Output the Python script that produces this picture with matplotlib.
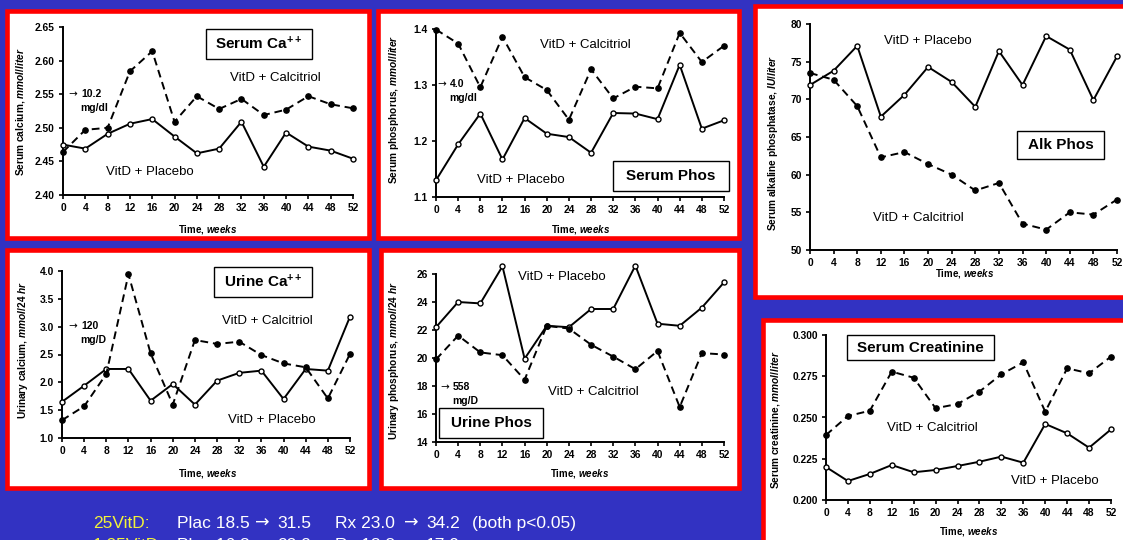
import matplotlib
matplotlib.use("Agg")
import matplotlib.pyplot as plt
from matplotlib.patches import Rectangle

# ---------------------------------------------------------------------------
# Data
# ---------------------------------------------------------------------------
weeks = [0, 4, 8, 12, 16, 20, 24, 28, 32, 36, 40, 44, 48, 52]

ca_placebo    = [2.475, 2.469, 2.491, 2.506, 2.513, 2.487, 2.462, 2.469, 2.509, 2.442, 2.493, 2.472, 2.466, 2.454]
ca_calcitriol = [2.464, 2.497, 2.500, 2.584, 2.614, 2.509, 2.547, 2.528, 2.543, 2.519, 2.527, 2.547, 2.535, 2.529]

phos_placebo    = [1.130, 1.194, 1.249, 1.167, 1.241, 1.213, 1.207, 1.179, 1.250, 1.249, 1.239, 1.336, 1.222, 1.237]
phos_calcitriol = [1.399, 1.374, 1.296, 1.386, 1.314, 1.291, 1.238, 1.328, 1.276, 1.297, 1.294, 1.393, 1.341, 1.370]

alk_placebo    = [71.9, 73.8, 77.1, 67.7, 70.6, 74.3, 72.3, 69.0, 76.4, 71.9, 78.4, 76.6, 69.9, 75.7]
alk_calcitriol = [73.5, 72.6, 69.1, 62.3, 63.0, 61.4, 60.0, 57.9, 58.9, 53.5, 52.7, 55.0, 54.7, 56.7]

uca_placebo    = [1.65, 1.94, 2.24, 2.24, 1.67, 1.97, 1.60, 2.03, 2.17, 2.21, 1.70, 2.24, 2.21, 3.18]
uca_calcitriol = [1.32, 1.57, 2.15, 3.94, 2.52, 1.60, 2.76, 2.69, 2.73, 2.49, 2.34, 2.27, 1.71, 2.51]

uphos_placebo    = [22.2, 24.0, 23.9, 26.55, 19.95, 22.3, 22.2, 23.5, 23.5, 26.6, 22.45, 22.3, 23.6, 25.4]
uphos_calcitriol = [19.9, 21.6, 20.4, 20.2, 18.45, 22.3, 22.1, 20.95, 20.1, 19.2, 20.5, 16.5, 20.35, 20.25]

cr_placebo    = [0.2200, 0.2115, 0.2158, 0.2212, 0.2168, 0.2182, 0.2206, 0.2232, 0.2263, 0.2226, 0.2461, 0.2404, 0.2317, 0.2428]
cr_calcitriol = [0.2394, 0.2509, 0.2541, 0.2778, 0.2741, 0.2556, 0.2582, 0.2657, 0.2762, 0.2834, 0.2535, 0.2798, 0.2768, 0.2869]

# ---------------------------------------------------------------------------
# Style
# ---------------------------------------------------------------------------
plt.rcParams["font.family"] = ["Liberation Sans", "DejaVu Sans"]
plt.rcParams["mathtext.fontset"] = "custom"
plt.rcParams["mathtext.rm"] = "Liberation Sans:bold"
plt.rcParams["mathtext.bf"] = "Liberation Sans:bold"
plt.rcParams["mathtext.it"] = "Liberation Sans:italic:bold"

W, H = 1123, 540
BG = "#3232c2"
ARROW = "\u2192"
fig = plt.figure(figsize=(W / 100, H / 100), dpi=100, facecolor=BG)


def fx(x):
    return x / W


def fy(y):
    return 1 - y / H


def ftext(x, y, s, **kw):
    fig.text(fx(x), fy(y), s, **kw)


def arrow(x, y, size, color="black"):
    # the slide's arrow is wider than Liberation's, DejaVu is closer
    ftext(x, y, ARROW, family="DejaVu Sans", fontsize=size, color=color,
          ha="left", va="center")


def panel_box(x0, y0, x1, y1):
    fig.add_artist(Rectangle((fx(x0), fy(y1)), (x1 - x0) / W, (y1 - y0) / H,
                             transform=fig.transFigure, facecolor="white",
                             edgecolor="#ff0000", linewidth=3.3, zorder=-1))


def title_box(x0, y0, x1, y1, s):
    fig.add_artist(Rectangle((fx(x0), fy(y1)), (x1 - x0) / W, (y1 - y0) / H,
                             transform=fig.transFigure, facecolor="white",
                             edgecolor="black", linewidth=1.0, zorder=2))
    ftext((x0 + x1) / 2, (y0 + y1) / 2, s, ha="center", va="center",
          fontsize=11, fontweight="bold", zorder=3)


def make_axes(x0, x1, ytop, ybot, placebo, calcitriol, ylim, yticks, yfmt):
    ax = fig.add_axes([fx(x0), fy(ybot), (x1 - x0) / W, (ybot - ytop) / H])
    ax.set_facecolor("none")
    ax.plot(weeks, placebo, color="black", lw=1.4, marker="o", ms=3.6,
            mfc="white", mec="black", mew=1.0, clip_on=False, zorder=3)
    ax.plot(weeks, calcitriol, color="black", lw=1.4, dashes=(4, 2.5),
            marker="o", ms=3.8, mfc="black", mec="black", clip_on=False, zorder=3)
    ax.set_xlim(0, 52)
    ax.set_ylim(*ylim)
    ax.set_xticks(weeks)
    ax.set_yticks(yticks)
    ax.set_yticklabels([yfmt % v for v in yticks])
    for side in ("top", "right"):
        ax.spines[side].set_visible(False)
    for side in ("left", "bottom"):
        ax.spines[side].set_linewidth(1.4)
    ax.tick_params(axis="both", direction="out", length=3, width=1.2,
                   labelsize=7.4, pad=3)
    for lab in ax.get_xticklabels() + ax.get_yticklabels():
        lab.set_fontweight("bold")
    return ax


def ylab(x, y, s):
    ftext(x, y, s, rotation=90, ha="center", va="center", fontsize=7.3,
          fontweight="bold")


def xlab(x, y):
    ftext(x, y, r"Time, $\mathit{weeks}$", ha="center", va="center",
          fontsize=7, fontweight="bold")


def note(x, y, s):
    ftext(x, y, s, ha="center", va="center", fontsize=9.5)


def conv(x, y, value, unit):
    arrow(x, y, 7.5)
    ftext(x + 13, y, value, ha="left", va="center", fontsize=7.5, fontweight="bold")
    ftext(x + 12, y + 14, unit, ha="left", va="center", fontsize=7.5,
          fontweight="bold")


# ---------------------------------------------------------------------------
# Panel frames
# ---------------------------------------------------------------------------
panel_box(6.5, 10.5, 368.5, 237.5)
panel_box(378.5, 10.5, 738.5, 237.5)
panel_box(754.5, 5.5, 1135, 296.5)
panel_box(6.5, 249.5, 368.5, 487.5)
panel_box(380.5, 249.5, 738.5, 487.5)
panel_box(762.5, 319.5, 1135, 560)

# --- Serum Ca ---
make_axes(63, 353, 27, 195, ca_placebo, ca_calcitriol, (2.40, 2.65),
          [2.40, 2.45, 2.50, 2.55, 2.60, 2.65], "%.2f")
ylab(21, 112, r"Serum calcium, $\mathit{mmol/liter}$")
xlab(208, 229)
title_box(206, 29, 312, 59, r"Serum Ca$^{++}$")
note(275, 78, "VitD + Calcitriol")
note(150, 172, "VitD + Placebo")
conv(68, 94, "10.2", "mg/dl")

# --- Serum Phos ---
make_axes(436, 724, 29, 197, phos_placebo, phos_calcitriol, (1.1, 1.4),
          [1.1, 1.2, 1.3, 1.4], "%.1f")
ylab(394, 109, r"Serum phosphorus, $\mathit{mmol/liter}$")
xlab(581, 229)
title_box(613, 161, 729, 191, "Serum Phos")
note(585, 45, "VitD + Calcitriol")
note(521, 180, "VitD + Placebo")
conv(437, 84, "4.0", "mg/dl")

# --- Alk Phos ---
make_axes(810, 1117, 24, 250, alk_placebo, alk_calcitriol, (50, 80),
          [50, 55, 60, 65, 70, 75, 80], "%d")
ylab(773, 143, r"Serum alkaline phosphatase, $\mathit{IU/liter}$")
xlab(965, 274)
title_box(1017, 131, 1104, 159, "Alk Phos")
note(928, 41, "VitD + Placebo")
note(918, 218, "VitD + Calcitriol")

# --- Urine Ca ---
make_axes(62, 350, 271, 438, uca_placebo, uca_calcitriol, (1.0, 4.0),
          [1.0, 1.5, 2.0, 2.5, 3.0, 3.5, 4.0], "%.1f")
ylab(23, 350, r"Urinary calcium, $\mathit{mmol/24\ hr}$")
xlab(208, 474)
title_box(214, 267, 312, 297, r"Urine Ca$^{++}$")
note(267, 321, "VitD + Calcitriol")
note(272, 420, "VitD + Placebo")
conv(68, 326, "120", "mg/D")

# --- Urine Phos ---
make_axes(436, 724, 274, 442, uphos_placebo, uphos_calcitriol, (14, 26),
          [14, 16, 18, 20, 22, 24, 26], "%d")
ylab(394, 360, r"Urinary phosphorus, $\mathit{mmol/24\ hr}$")
xlab(580, 474)
title_box(439, 408, 543, 438, "Urine Phos")
note(562, 277, "VitD + Placebo")
note(593, 392, "VitD + Calcitriol")
conv(440, 387, "558", "mg/D")

# --- Serum Creatinine ---
make_axes(826, 1111, 335, 500, cr_placebo, cr_calcitriol, (0.200, 0.300),
          [0.200, 0.225, 0.250, 0.275, 0.300], "%.3f")
ylab(776, 420, r"Serum creatinine, $\mathit{mmol/liter}$")
xlab(969, 532)
title_box(847, 335, 994, 360, "Serum Creatinine")
note(932, 428, "VitD + Calcitriol")
note(1055, 481, "VitD + Placebo")

# ---------------------------------------------------------------------------
# Footnote lines on the slide (second line is cut by the slide edge)
# ---------------------------------------------------------------------------
YELLOW = "#f2f23a"
FS = 12.5
footnotes = [
    (528, "25VitD:", "Plac 18.5", "31.5", "Rx 23.0", "34.2", "(both p<0.05)"),
    (550, "1,25VitD:", "Plac 16.8", "22.2", "Rx 18.8", "17.9", ""),
]
for ybase, head, p0, p1, r0, r1, tail in footnotes:
    ftext(93, ybase, head, color=YELLOW, fontsize=FS, va="baseline")
    ftext(177, ybase, p0, color="white", fontsize=FS, va="baseline")
    arrow(255, ybase - 5, FS, color="white")
    ftext(277, ybase, p1, color="white", fontsize=FS, va="baseline")
    ftext(335, ybase, r0, color="white", fontsize=FS, va="baseline")
    arrow(404, ybase - 5, FS, color="white")
    ftext(426, ybase, r1, color="white", fontsize=FS, va="baseline")
    if tail:
        ftext(472, ybase, tail, color="white", fontsize=FS, va="baseline")

fig.savefig("out.png", dpi=100, facecolor=BG)
